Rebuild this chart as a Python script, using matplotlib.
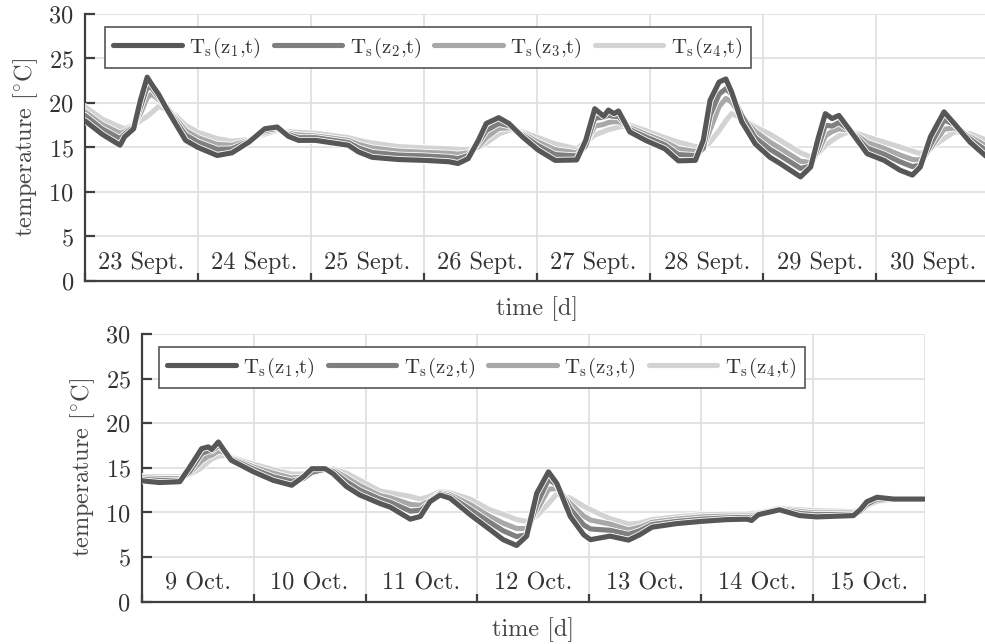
import numpy as np
import matplotlib
matplotlib.use("Agg")
import matplotlib.pyplot as plt
import matplotlib.patheffects as pe
from matplotlib.ticker import MultipleLocator

plt.rcParams['font.family'] = ['cmr10', 'DejaVu Serif']
plt.rcParams['mathtext.fontset'] = 'cm'
plt.rcParams['axes.formatter.use_mathtext'] = True

# --- September: time in days from 23 Sept 00:00 ---
t_sep = [0, 0.15, 0.31, 0.35, 0.43, 0.49, 0.55, 0.59, 0.65, 0.72, 0.80, 0.89, 1.0, 1.17, 1.30,
         1.45, 1.59, 1.70, 1.80, 1.89, 2.04, 2.33, 2.42, 2.54, 2.77, 3.01, 3.22, 3.30, 3.39, 3.48,
         3.55, 3.66, 3.75, 3.87, 4.01, 4.16, 4.35, 4.43, 4.51, 4.59, 4.63, 4.68, 4.72, 4.82, 4.96,
         5.13, 5.25, 5.40, 5.47, 5.53, 5.61, 5.67, 5.72, 5.81, 5.93, 6.06, 6.15, 6.33, 6.42, 6.49,
         6.55, 6.61, 6.67, 6.77, 6.92, 7.07, 7.21, 7.32, 7.39, 7.48, 7.60, 7.69, 7.83, 8.0]
z1_sep = [18.0, 16.5, 15.25, 16.2, 17.1, 20.3, 22.9, 22.1, 21.0, 19.4, 17.7, 15.8, 15.0, 14.1, 14.4,
          15.6, 17.1, 17.3, 16.25, 15.8, 15.8, 15.25, 14.5, 13.9, 13.65, 13.55, 13.4, 13.2, 13.75, 15.8,
          17.7, 18.35, 17.7, 16.2, 14.7, 13.55, 13.6, 15.8, 19.35, 18.5, 19.2, 18.8, 19.1, 16.75, 15.8,
          14.85, 13.5, 13.55, 15.8, 20.3, 22.35, 22.7, 21.25, 17.9, 15.4, 13.9, 13.2, 11.7, 12.8, 16.2,
          18.8, 18.25, 18.6, 16.9, 14.3, 13.55, 12.45, 11.9, 12.8, 16.2, 19.0, 17.7, 15.6, 13.7]
z2_sep = [18.6, 17.1, 16.0, 16.5, 17.3, 19.5, 21.8, 21.7, 20.7, 19.6, 18.0, 16.4, 15.6, 14.8, 14.85,
          15.7, 16.9, 17.15, 16.45, 16.1, 16.1, 15.55, 14.95, 14.45, 14.15, 14.05, 13.9, 13.75, 14.1, 15.5,
          16.9, 17.7, 17.45, 16.4, 15.2, 14.2, 14.05, 15.2, 18.3, 18.4, 18.6, 18.5, 18.5, 17.0, 16.2,
          15.3, 14.2, 14.1, 14.9, 18.6, 21.0, 21.6, 21.0, 18.6, 16.1, 14.8, 14.1, 12.65, 12.9, 15.2,
          17.5, 17.4, 17.8, 16.9, 14.95, 14.25, 13.4, 12.85, 13.0, 15.3, 18.1, 17.6, 15.95, 14.4]
z3_sep = [19.0, 17.6, 16.6, 16.8, 17.35, 18.8, 20.6, 21.0, 20.4, 19.5, 18.3, 16.9, 16.1, 15.35, 15.25,
          15.8, 16.7, 17.05, 16.6, 16.4, 16.3, 15.8, 15.35, 14.95, 14.6, 14.45, 14.35, 14.25, 14.4, 15.1,
          16.1, 17.15, 17.2, 16.55, 15.6, 14.75, 14.4, 15.4, 17.4, 17.6, 17.8, 17.9, 17.9, 17.25, 16.5,
          15.65, 14.85, 14.55, 14.9, 17.0, 19.6, 20.5, 20.1, 18.5, 16.8, 15.6, 14.9, 13.45, 13.3, 14.6,
          16.3, 16.8, 17.1, 16.9, 15.55, 14.9, 14.15, 13.65, 13.6, 14.9, 17.05, 17.2, 16.2, 15.0]
z4_sep = [19.6, 18.2, 17.3, 17.1, 17.5, 18.0, 18.5, 18.9, 19.6, 19.3, 18.6, 17.5, 16.7, 16.0, 15.7,
          15.9, 16.5, 16.9, 16.8, 16.7, 16.6, 16.1, 15.8, 15.5, 15.1, 14.95, 14.85, 14.8, 14.75, 15.0,
          15.5, 16.5, 16.95, 16.75, 16.1, 15.4, 14.85, 15.6, 16.4, 16.8, 17.0, 17.15, 17.3, 17.5, 16.9,
          16.1, 15.6, 15.1, 15.0, 15.6, 16.9, 18.0, 18.8, 18.3, 17.3, 16.5, 15.8, 14.4, 13.95, 14.4,
          15.2, 15.8, 16.3, 16.85, 16.2, 15.6, 15.05, 14.6, 14.3, 14.9, 16.0, 16.75, 16.55, 15.7]
days_sep = ["23 Sept.", "24 Sept.", "25 Sept.", "26 Sept.", "27 Sept.", "28 Sept.", "29 Sept.", "30 Sept."]

# --- October: time in days from 9 Oct 00:00 ---
t_oct = [0, 0.16, 0.34, 0.43, 0.535, 0.595, 0.625, 0.685, 0.745, 0.80, 1.0, 1.175, 1.34, 1.445,
         1.52, 1.64, 1.71, 1.83, 1.95, 2.13, 2.22, 2.40, 2.49, 2.575, 2.665, 2.755, 2.935, 3.11,
         3.23, 3.35, 3.44, 3.53, 3.635, 3.71, 3.83, 3.95, 4.01, 4.185, 4.35, 4.45, 4.56, 4.78,
         5.0, 5.23, 5.41, 5.45, 5.51, 5.70, 5.88, 6.03, 6.36, 6.42, 6.48, 6.57, 6.72, 7.0]
z1_oct = [13.55, 13.35, 13.45, 15.1, 17.15, 17.35, 17.05, 17.9, 16.8, 15.85, 14.55, 13.6, 13.05, 14.0,
          14.9, 14.9, 14.35, 12.9, 11.95, 11.0, 10.6, 9.25, 9.55, 11.2, 11.95, 11.6, 9.75, 8.1,
          6.95, 6.3, 7.35, 12.15, 14.55, 13.25, 9.55, 7.5, 6.95, 7.35, 6.9, 7.5, 8.35, 8.75,
          9.0, 9.2, 9.25, 9.1, 9.75, 10.3, 9.65, 9.5, 9.65, 10.3, 11.2, 11.7, 11.5, 11.5]
z2_oct = [13.7, 13.6, 13.6, 14.6, 16.6, 16.9, 16.9, 17.5, 16.9, 16.0, 14.85, 14.0, 13.5, 13.8,
          14.5, 14.85, 14.6, 13.45, 12.5, 11.5, 11.15, 10.15, 10.25, 11.1, 12.1, 11.8, 10.35, 8.9,
          7.95, 7.3, 7.5, 10.9, 13.7, 13.1, 10.4, 8.6, 8.15, 8.0, 7.55, 7.95, 8.65, 9.0,
          9.25, 9.4, 9.45, 9.35, 9.85, 10.35, 9.9, 9.75, 9.8, 10.1, 10.9, 11.5, 11.5, 11.5]
z3_oct = [13.9, 13.8, 13.8, 14.4, 15.8, 16.3, 16.4, 16.9, 16.7, 16.1, 15.1, 14.4, 13.85, 14.0,
          14.4, 14.8, 14.75, 13.9, 13.0, 11.9, 11.65, 10.9, 10.8, 11.3, 12.2, 12.0, 10.9, 9.55,
          8.8, 8.2, 8.2, 10.2, 12.6, 12.7, 11.0, 9.6, 9.15, 8.7, 8.05, 8.35, 8.9, 9.25,
          9.5, 9.6, 9.6, 9.6, 9.9, 10.45, 10.1, 9.95, 9.95, 10.2, 10.8, 11.3, 11.5, 11.5]
z4_oct = [14.05, 14.0, 14.0, 14.25, 15.0, 15.7, 16.0, 16.3, 16.4, 16.2, 15.4, 14.8, 14.3, 14.3,
          14.45, 14.75, 14.9, 14.4, 13.6, 12.4, 12.2, 11.8, 11.5, 11.8, 12.35, 12.2, 11.5, 10.3,
          9.8, 9.2, 9.0, 9.6, 11.0, 12.1, 11.6, 10.7, 10.3, 9.3, 8.7, 8.8, 9.2, 9.5,
          9.75, 9.8, 9.8, 9.85, 10.0, 10.5, 10.3, 10.2, 10.1, 10.3, 10.7, 11.2, 11.45, 11.5]
days_oct = ["9 Oct.", "10 Oct.", "11 Oct.", "12 Oct.", "13 Oct.", "14 Oct.", "15 Oct."]

labels = [r"$\mathrm{T_s(z_1{,}t)}$", r"$\mathrm{T_s(z_2{,}t)}$",
          r"$\mathrm{T_s(z_3{,}t)}$", r"$\mathrm{T_s(z_4{,}t)}$"]
colors = ["#575757", "#7f7f7f", "#a8a8a8", "#d3d3d3"]
axcol = "#3f3f3f"
fs = 17.5
fs_leg = 15


def panel(ax, t, series, days):
    handles = [None] * 4
    # deepest sensor first so z1 ends up on top
    for i in (3, 2, 1, 0):
        h, = ax.plot(t, series[i], color=colors[i], lw=3.7, solid_capstyle='round',
                     solid_joinstyle='round', label=labels[i], zorder=3 + (3 - i),
                     path_effects=[pe.Stroke(linewidth=4.9, foreground='white'), pe.Normal()])
        handles[i] = h
    n = len(days)
    ax.set_xlim(0, n)
    ax.set_ylim(0, 30)
    ax.xaxis.set_major_locator(MultipleLocator(1))
    ax.yaxis.set_major_locator(MultipleLocator(5))
    ax.set_xticklabels([])
    ax.grid(True, color="#e0e0e0", lw=1.3, zorder=0)
    ax.set_axisbelow(True)
    for s in ("top", "right"):
        ax.spines[s].set_visible(False)
    for s in ("left", "bottom"):
        ax.spines[s].set_color(axcol)
        ax.spines[s].set_linewidth(1.6)
    ax.tick_params(direction='in', length=7, width=1.6, color=axcol,
                   labelsize=fs, labelcolor="#333333", pad=8)
    ax.tick_params(axis='x', length=6)
    for k, d in enumerate(days):
        ax.text(k + 0.5, 2.1, d, ha='center', va='center', fontsize=fs, color="#333333")
    ax.set_xlabel("time [d]", fontsize=fs, color="#444444", labelpad=3)
    ax.set_ylabel(r"temperature [$^{\circ}$C]", fontsize=fs, color="#444444", labelpad=6)
    leg = ax.legend(handles=handles, ncol=4, loc='upper left',
                    bbox_to_anchor=(0.022, 0.95), fontsize=fs_leg, frameon=True, fancybox=False,
                    handlelength=3.3, handletextpad=0.35, columnspacing=0.6,
                    borderpad=0.4, borderaxespad=0)
    leg.get_frame().set_edgecolor("#555555")
    leg.get_frame().set_linewidth(1.2)
    leg.get_frame().set_alpha(1)
    for txt in leg.get_texts():
        txt.set_color("#333333")
    leg.set_zorder(10)


fig = plt.figure(figsize=(9.85, 6.44), dpi=100)
ax1 = fig.add_axes([0.0863, 0.5637, 0.9180, 0.4146])
ax2 = fig.add_axes([0.1439, 0.0657, 0.7952, 0.4157])

panel(ax1, t_sep, [z1_sep, z2_sep, z3_sep, z4_sep], days_sep)
panel(ax2, t_oct, [z1_oct, z2_oct, z3_oct, z4_oct], days_oct)

fig.savefig("out.png", dpi=100)
